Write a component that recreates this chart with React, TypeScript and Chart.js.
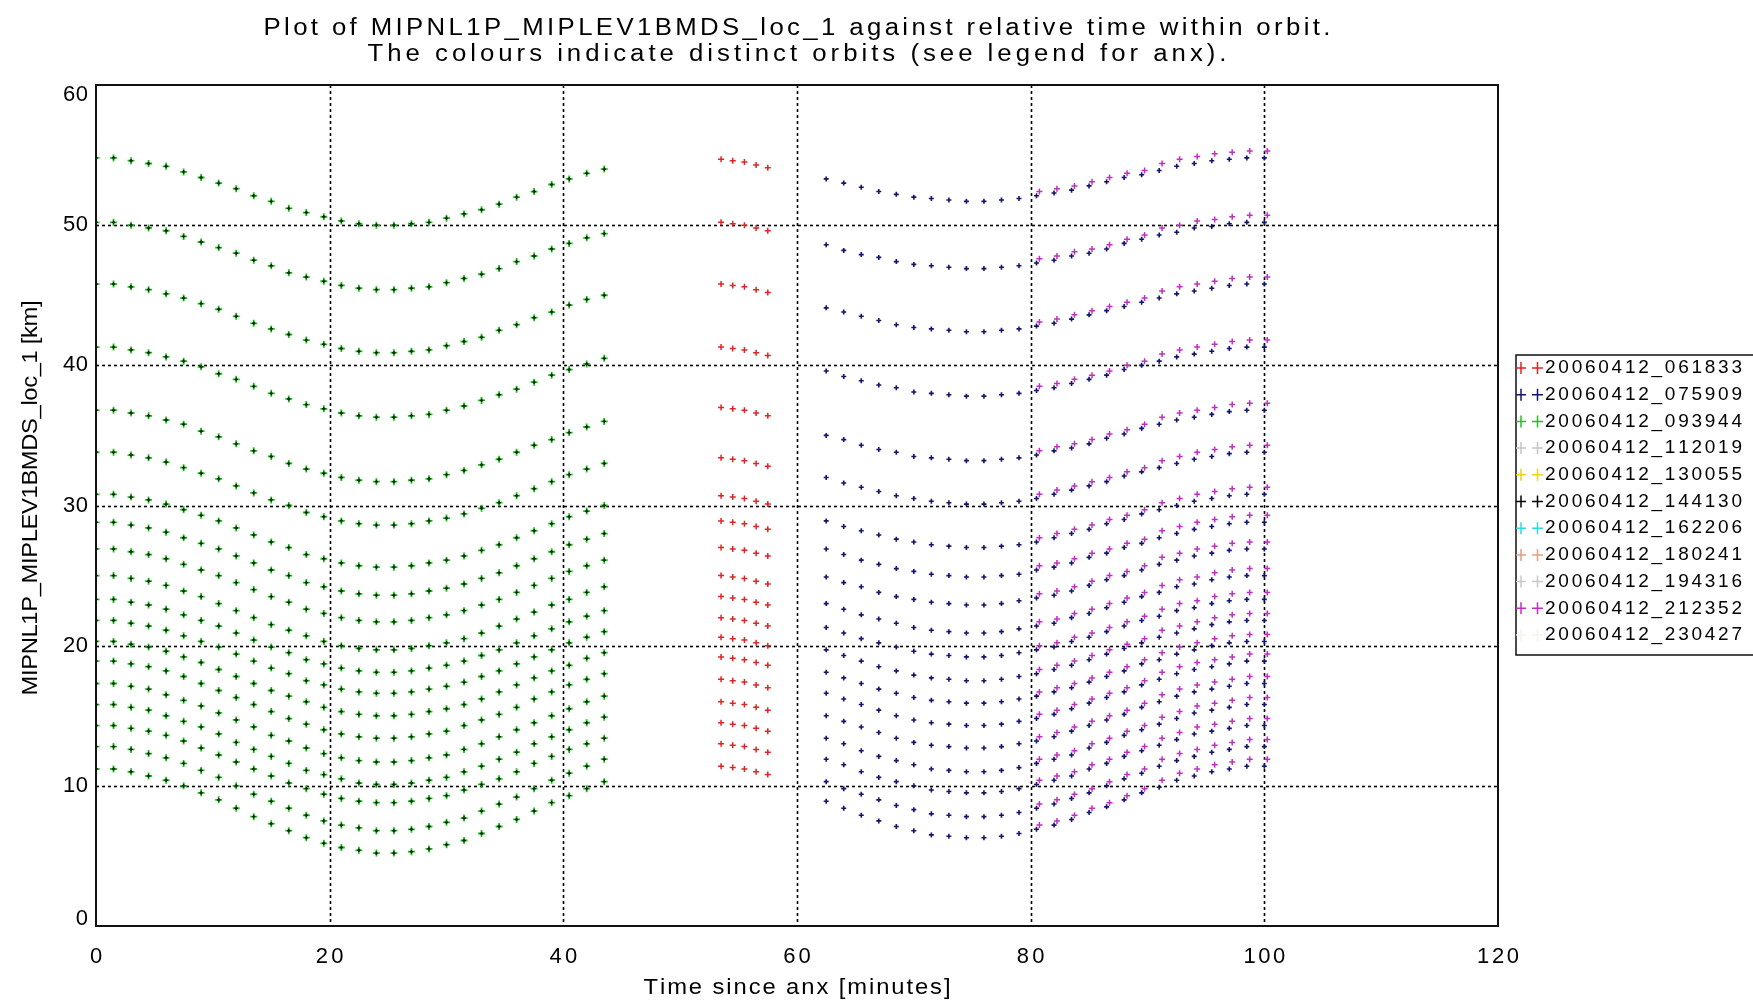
import React, { useEffect, useRef } from 'react';
import { Chart, registerables } from 'chart.js';

Chart.register(...registerables);

// ---------- texts ----------
const TITLE_1 = 'Plot of MIPNL1P_MIPLEV1BMDS_loc_1 against relative time within orbit.';
const TITLE_2 = 'The colours indicate distinct orbits (see legend for anx).';
const X_TITLE = 'Time since anx [minutes]';
const Y_TITLE = 'MIPNL1P_MIPLEV1BMDS_loc_1 [km]';

// ---------- axes ----------
const X_MIN = 0;
const X_MAX = 120;
const X_STEP = 20;
const Y_MIN = 0;
const Y_MAX = 60;
const Y_STEP = 10;

// ---------- legend ----------
const ORBITS = [
  '20060412_061833',
  '20060412_075909',
  '20060412_093944',
  '20060412_112019',
  '20060412_130055',
  '20060412_144130',
  '20060412_162206',
  '20060412_180241',
  '20060412_194316',
  '20060412_212352',
  '20060412_230427',
];
const ORBIT_COLORS = [
  '#e02424',
  '#14146e',
  '#22c022',
  '#c4c4cc',
  '#f0d020',
  '#000000',
  '#30d8e0',
  '#e0a080',
  '#c8c8c8',
  '#c030c0',
  '#f4f4ec',
];

// ---------- times (minutes since anx) ----------
const LEFT_TIMES = [0, 1.5, 3, 4.5, 6, 7.5, 9, 10.5, 12, 13.5, 15, 16.5, 18, 19.5, 21, 22.5, 24, 25.5, 27, 28.5, 30, 31.5, 33, 34.5, 36, 37.5, 39, 40.5, 42, 43.5];
const RED_TIMES = [53.5, 54.5, 55.5, 56.5, 57.5];
const RIGHT_TIMES = [62.5, 64, 65.5, 67, 68.5, 70, 71.5, 73, 74.5, 76, 77.5, 79, 80.5, 82, 83.5, 85, 86.5, 88, 89.5, 91, 92.5, 94, 95.5, 97, 98.5, 100];
const PURPLE_TIMES = [80.75, 82.25, 83.75, 85.25, 86.75, 88.25, 89.75, 91.25, 92.75, 94.25, 95.75, 97.25, 98.75, 100.25];

// ---------- values (km), one row per tangent level ----------
const GREEN_093944 = [
  [54.8, 54.8, 54.6, 54.4, 54.2, 53.8, 53.4, 53.0, 52.6, 52.1, 51.7, 51.2, 50.9, 50.6, 50.3, 50.1, 50.0, 50.0, 50.1, 50.2, 50.5, 50.8, 51.1, 51.5, 52.0, 52.4, 52.9, 53.3, 53.7, 54.0],
  [50.2, 50.2, 50.0, 49.8, 49.6, 49.2, 48.8, 48.4, 48.0, 47.5, 47.1, 46.6, 46.3, 46.0, 45.7, 45.5, 45.4, 45.4, 45.5, 45.6, 45.9, 46.2, 46.5, 46.9, 47.4, 47.8, 48.3, 48.7, 49.1, 49.4],
  [45.8, 45.8, 45.6, 45.4, 45.1, 44.8, 44.4, 44.0, 43.5, 43.0, 42.6, 42.2, 41.8, 41.5, 41.2, 41.0, 40.9, 40.9, 41.0, 41.1, 41.4, 41.7, 42.0, 42.5, 42.9, 43.4, 43.8, 44.3, 44.7, 45.0],
  [41.3, 41.3, 41.1, 40.9, 40.6, 40.3, 39.9, 39.4, 39.0, 38.5, 38.0, 37.6, 37.2, 36.9, 36.6, 36.4, 36.3, 36.3, 36.4, 36.5, 36.8, 37.1, 37.5, 37.9, 38.3, 38.8, 39.3, 39.7, 40.1, 40.5],
  [36.8, 36.8, 36.6, 36.4, 36.1, 35.8, 35.3, 34.9, 34.4, 33.9, 33.5, 33.0, 32.6, 32.3, 32.0, 31.8, 31.7, 31.7, 31.8, 31.9, 32.2, 32.5, 32.9, 33.3, 33.8, 34.3, 34.7, 35.2, 35.6, 36.0],
  [33.8, 33.8, 33.6, 33.4, 33.1, 32.7, 32.3, 31.9, 31.4, 30.9, 30.4, 30.0, 29.5, 29.2, 28.9, 28.7, 28.6, 28.6, 28.7, 28.9, 29.1, 29.4, 29.8, 30.2, 30.7, 31.2, 31.7, 32.2, 32.6, 33.0],
  [30.8, 30.8, 30.6, 30.4, 30.1, 29.7, 29.3, 28.9, 28.4, 27.9, 27.4, 27.0, 26.5, 26.2, 25.9, 25.7, 25.6, 25.6, 25.7, 25.9, 26.1, 26.4, 26.8, 27.2, 27.7, 28.2, 28.7, 29.2, 29.6, 30.0],
  [28.8, 28.8, 28.6, 28.4, 28.1, 27.7, 27.3, 26.9, 26.4, 25.9, 25.4, 25.0, 24.5, 24.2, 23.9, 23.7, 23.6, 23.6, 23.7, 23.9, 24.1, 24.4, 24.8, 25.2, 25.7, 26.2, 26.7, 27.2, 27.6, 28.0],
  [26.9, 26.9, 26.7, 26.5, 26.2, 25.8, 25.4, 25.0, 24.5, 24.0, 23.5, 23.1, 22.6, 22.3, 22.0, 21.8, 21.7, 21.7, 21.8, 22.0, 22.2, 22.5, 22.9, 23.3, 23.8, 24.3, 24.8, 25.3, 25.7, 26.1],
  [25.0, 25.0, 24.8, 24.6, 24.3, 23.9, 23.5, 23.0, 22.5, 22.0, 21.5, 21.1, 20.7, 20.3, 20.0, 19.8, 19.7, 19.7, 19.8, 20.0, 20.2, 20.5, 20.9, 21.4, 21.9, 22.4, 22.9, 23.3, 23.8, 24.2],
  [23.3, 23.3, 23.1, 22.9, 22.6, 22.2, 21.8, 21.4, 20.9, 20.4, 19.9, 19.5, 19.0, 18.7, 18.4, 18.2, 18.1, 18.1, 18.2, 18.4, 18.6, 18.9, 19.3, 19.7, 20.2, 20.7, 21.2, 21.7, 22.1, 22.5],
  [21.8, 21.8, 21.6, 21.4, 21.1, 20.7, 20.3, 19.9, 19.4, 18.9, 18.4, 18.0, 17.5, 17.2, 16.9, 16.7, 16.6, 16.6, 16.7, 16.9, 17.1, 17.4, 17.8, 18.2, 18.7, 19.2, 19.7, 20.2, 20.6, 21.0],
  [20.3, 20.3, 20.1, 19.9, 19.6, 19.2, 18.8, 18.3, 17.8, 17.3, 16.8, 16.4, 16.0, 15.6, 15.3, 15.1, 15.0, 15.0, 15.1, 15.3, 15.5, 15.8, 16.2, 16.7, 17.2, 17.7, 18.2, 18.6, 19.1, 19.5],
  [18.9, 18.9, 18.7, 18.5, 18.2, 17.8, 17.3, 16.8, 16.3, 15.8, 15.3, 14.8, 14.4, 14.0, 13.7, 13.5, 13.4, 13.4, 13.5, 13.7, 13.9, 14.3, 14.7, 15.1, 15.6, 16.2, 16.7, 17.2, 17.6, 18.0],
  [17.3, 17.3, 17.1, 16.9, 16.5, 16.1, 15.7, 15.2, 14.7, 14.2, 13.6, 13.2, 12.7, 12.3, 12.0, 11.8, 11.7, 11.7, 11.8, 12.0, 12.2, 12.6, 13.0, 13.5, 14.0, 14.5, 15.0, 15.5, 16.0, 16.4],
  [15.8, 15.8, 15.6, 15.4, 15.0, 14.6, 14.2, 13.7, 13.1, 12.6, 12.1, 11.6, 11.1, 10.8, 10.5, 10.2, 10.1, 10.1, 10.2, 10.4, 10.6, 11.0, 11.4, 11.9, 12.4, 13.0, 13.5, 14.0, 14.5, 14.9],
  [14.3, 14.3, 14.1, 13.9, 13.6, 13.2, 12.7, 12.2, 11.7, 11.2, 10.7, 10.2, 9.8, 9.4, 9.1, 8.9, 8.8, 8.8, 8.9, 9.1, 9.3, 9.7, 10.1, 10.5, 11.0, 11.6, 12.1, 12.6, 13.0, 13.4],
  [12.8, 12.8, 12.6, 12.3, 12.0, 11.6, 11.1, 10.6, 10.0, 9.4, 8.9, 8.4, 7.9, 7.5, 7.2, 7.0, 6.8, 6.8, 6.9, 7.1, 7.4, 7.7, 8.2, 8.7, 9.2, 9.8, 10.4, 10.9, 11.4, 11.9],
  [11.2, 11.2, 11.0, 10.7, 10.4, 10.0, 9.5, 9.0, 8.4, 7.8, 7.3, 6.8, 6.3, 5.9, 5.6, 5.4, 5.2, 5.2, 5.3, 5.5, 5.8, 6.1, 6.6, 7.1, 7.6, 8.2, 8.8, 9.3, 9.8, 10.3],
];

const RED_061833 = [
  [54.7, 54.6, 54.5, 54.3, 54.1],
  [50.2, 50.1, 50.0, 49.8, 49.6],
  [45.8, 45.7, 45.6, 45.4, 45.2],
  [41.3, 41.2, 41.1, 40.9, 40.7],
  [37.0, 36.9, 36.8, 36.6, 36.4],
  [33.4, 33.3, 33.2, 33.0, 32.8],
  [30.7, 30.6, 30.5, 30.3, 30.1],
  [28.9, 28.8, 28.7, 28.5, 28.3],
  [27.0, 26.9, 26.8, 26.6, 26.4],
  [25.0, 24.9, 24.8, 24.6, 24.4],
  [23.5, 23.4, 23.3, 23.1, 22.9],
  [22.0, 21.9, 21.8, 21.6, 21.4],
  [20.6, 20.5, 20.4, 20.2, 20.0],
  [19.2, 19.1, 19.0, 18.8, 18.6],
  [17.6, 17.5, 17.4, 17.2, 17.0],
  [16.0, 15.9, 15.8, 15.6, 15.4],
  [14.5, 14.4, 14.3, 14.1, 13.9],
  [13.0, 12.9, 12.8, 12.6, 12.4],
  [11.4, 11.3, 11.2, 11.0, 10.8],
];

const NAVY_075909 = [
  [53.3, 53.0, 52.7, 52.4, 52.2, 52.0, 51.9, 51.8, 51.7, 51.7, 51.8, 51.9, 52.1, 52.3, 52.5, 52.8, 53.1, 53.4, 53.6, 53.9, 54.2, 54.4, 54.6, 54.7, 54.8, 54.8],
  [48.6, 48.2, 47.9, 47.7, 47.4, 47.2, 47.1, 47.0, 46.9, 46.9, 47.0, 47.1, 47.3, 47.5, 47.8, 48.0, 48.3, 48.7, 49.0, 49.3, 49.5, 49.8, 49.9, 50.1, 50.2, 50.2],
  [44.1, 43.8, 43.5, 43.2, 42.9, 42.7, 42.6, 42.5, 42.4, 42.4, 42.5, 42.6, 42.8, 43.0, 43.3, 43.6, 43.9, 44.2, 44.5, 44.8, 45.1, 45.3, 45.5, 45.7, 45.8, 45.8],
  [39.6, 39.2, 38.9, 38.6, 38.4, 38.1, 38.0, 37.9, 37.8, 37.8, 37.9, 38.0, 38.2, 38.4, 38.7, 39.0, 39.3, 39.7, 40.0, 40.3, 40.6, 40.8, 41.0, 41.2, 41.3, 41.3],
  [35.0, 34.7, 34.3, 34.0, 33.8, 33.5, 33.4, 33.3, 33.2, 33.2, 33.3, 33.4, 33.6, 33.9, 34.1, 34.4, 34.8, 35.1, 35.5, 35.8, 36.1, 36.3, 36.5, 36.7, 36.8, 36.8],
  [32.0, 31.6, 31.3, 31.0, 30.7, 30.5, 30.3, 30.2, 30.1, 30.1, 30.2, 30.3, 30.5, 30.8, 31.1, 31.4, 31.7, 32.1, 32.4, 32.7, 33.0, 33.3, 33.5, 33.7, 33.8, 33.8],
  [28.9, 28.5, 28.2, 27.9, 27.6, 27.4, 27.2, 27.1, 27.0, 27.0, 27.1, 27.2, 27.4, 27.7, 28.0, 28.3, 28.7, 29.0, 29.4, 29.7, 30.0, 30.3, 30.5, 30.7, 30.8, 30.8],
  [26.9, 26.5, 26.1, 25.8, 25.5, 25.3, 25.1, 25.0, 24.9, 24.9, 25.0, 25.1, 25.4, 25.6, 25.9, 26.3, 26.6, 27.0, 27.3, 27.7, 28.0, 28.3, 28.5, 28.7, 28.8, 28.8],
  [24.9, 24.5, 24.2, 23.8, 23.5, 23.3, 23.1, 23.0, 22.9, 22.9, 23.0, 23.2, 23.4, 23.6, 23.9, 24.3, 24.7, 25.0, 25.4, 25.8, 26.1, 26.4, 26.6, 26.8, 26.9, 26.9],
  [23.0, 22.6, 22.2, 21.9, 21.6, 21.3, 21.1, 21.0, 20.9, 20.9, 21.0, 21.2, 21.4, 21.6, 22.0, 22.3, 22.7, 23.1, 23.5, 23.8, 24.2, 24.4, 24.7, 24.9, 25.0, 25.0],
  [21.3, 20.9, 20.5, 20.2, 19.9, 19.6, 19.4, 19.3, 19.2, 19.2, 19.3, 19.5, 19.7, 19.9, 20.3, 20.6, 21.0, 21.4, 21.8, 22.1, 22.5, 22.7, 23.0, 23.2, 23.3, 23.3],
  [19.7, 19.3, 18.9, 18.5, 18.2, 17.9, 17.7, 17.6, 17.5, 17.5, 17.6, 17.8, 18.0, 18.3, 18.6, 19.0, 19.4, 19.8, 20.2, 20.6, 20.9, 21.2, 21.5, 21.7, 21.8, 21.8],
  [18.1, 17.7, 17.3, 16.9, 16.6, 16.3, 16.1, 16.0, 15.9, 15.9, 16.0, 16.2, 16.4, 16.7, 17.0, 17.4, 17.8, 18.2, 18.7, 19.0, 19.4, 19.7, 20.0, 20.2, 20.3, 20.3],
  [16.6, 16.2, 15.8, 15.4, 15.0, 14.7, 14.5, 14.4, 14.3, 14.3, 14.4, 14.6, 14.8, 15.1, 15.5, 15.9, 16.3, 16.7, 17.2, 17.6, 18.0, 18.3, 18.5, 18.7, 18.9, 18.9],
  [15.0, 14.6, 14.2, 13.8, 13.4, 13.1, 12.9, 12.8, 12.7, 12.7, 12.8, 13.0, 13.2, 13.5, 13.9, 14.3, 14.7, 15.1, 15.6, 16.0, 16.4, 16.7, 16.9, 17.1, 17.3, 17.3],
  [13.4, 13.0, 12.5, 12.1, 11.8, 11.5, 11.2, 11.1, 11.0, 11.0, 11.1, 11.3, 11.6, 11.9, 12.2, 12.7, 13.1, 13.6, 14.0, 14.4, 14.8, 15.2, 15.4, 15.6, 15.8, 15.8],
  [11.9, 11.5, 11.0, 10.6, 10.3, 10.0, 9.7, 9.6, 9.5, 9.5, 9.6, 9.8, 10.1, 10.4, 10.7, 11.2, 11.6, 12.1, 12.5, 12.9, 13.3, 13.7, 13.9, 14.1, 14.3, 14.3],
  [10.3, 9.8, 9.4, 9.0, 8.6, 8.3, 8.0, 7.9, 7.8, 7.8, 7.9, 8.1, 8.4, 8.7, 9.1, 9.5, 10.0, 10.5, 10.9, 11.4, 11.8, 12.1, 12.4, 12.6, 12.8, 12.8],
  [8.9, 8.4, 7.9, 7.5, 7.1, 6.8, 6.5, 6.4, 6.3, 6.3, 6.4, 6.6, 6.9, 7.2, 7.6, 8.1, 8.5, 9.0, 9.5, 9.9, 10.4, 10.7, 11.0, 11.2, 11.4, 11.4],
];

const PURPLE_212352 = [
  [52.4, 52.6, 52.8, 53.1, 53.4, 53.7, 53.9, 54.4, 54.7, 54.9, 55.1, 55.2, 55.3, 55.3],
  [47.6, 47.8, 48.1, 48.3, 48.6, 49.0, 49.3, 49.8, 50.0, 50.3, 50.4, 50.6, 50.7, 50.7],
  [43.1, 43.3, 43.6, 43.9, 44.2, 44.5, 44.8, 45.3, 45.6, 45.8, 46.0, 46.2, 46.3, 46.3],
  [38.5, 38.7, 39.0, 39.3, 39.6, 40.0, 40.3, 40.8, 41.1, 41.3, 41.5, 41.7, 41.8, 41.8],
  [33.9, 34.2, 34.4, 34.7, 35.1, 35.4, 35.8, 36.3, 36.6, 36.8, 37.0, 37.2, 37.3, 37.3],
  [30.8, 31.1, 31.4, 31.7, 32.0, 32.4, 32.7, 33.2, 33.5, 33.8, 34.0, 34.2, 34.3, 34.3],
  [27.7, 28.0, 28.3, 28.6, 29.0, 29.3, 29.7, 30.2, 30.5, 30.8, 31.0, 31.2, 31.3, 31.3],
  [25.7, 25.9, 26.2, 26.6, 26.9, 27.3, 27.6, 28.2, 28.5, 28.8, 29.0, 29.2, 29.3, 29.3],
  [23.7, 23.9, 24.2, 24.6, 25.0, 25.3, 25.7, 26.3, 26.6, 26.9, 27.1, 27.3, 27.4, 27.4],
  [21.7, 21.9, 22.3, 22.6, 23.0, 23.4, 23.8, 24.3, 24.7, 24.9, 25.2, 25.4, 25.5, 25.5],
  [20.0, 20.2, 20.6, 20.9, 21.3, 21.7, 22.1, 22.6, 23.0, 23.2, 23.5, 23.7, 23.8, 23.8],
  [18.3, 18.6, 18.9, 19.3, 19.7, 20.1, 20.5, 21.1, 21.4, 21.7, 22.0, 22.2, 22.3, 22.3],
  [16.7, 17.0, 17.3, 17.7, 18.1, 18.5, 19.0, 19.5, 19.9, 20.2, 20.5, 20.7, 20.8, 20.8],
  [15.1, 15.4, 15.8, 16.2, 16.6, 17.0, 17.5, 18.1, 18.5, 18.8, 19.0, 19.2, 19.4, 19.4],
  [13.5, 13.8, 14.2, 14.6, 15.0, 15.4, 15.9, 16.5, 16.9, 17.2, 17.4, 17.6, 17.8, 17.8],
  [11.9, 12.2, 12.5, 13.0, 13.4, 13.9, 14.3, 14.9, 15.3, 15.7, 15.9, 16.1, 16.3, 16.3],
  [10.4, 10.7, 11.0, 11.5, 11.9, 12.4, 12.8, 13.4, 13.8, 14.2, 14.4, 14.6, 14.8, 14.8],
  [8.7, 9.0, 9.4, 9.8, 10.3, 10.8, 11.2, 11.9, 12.3, 12.6, 12.9, 13.1, 13.3, 13.3],
  [7.2, 7.5, 7.9, 8.4, 8.8, 9.3, 9.8, 10.4, 10.9, 11.2, 11.5, 11.7, 11.9, 11.9],
];

// ---------- helpers ----------
type Pt = { x: number; y: number };
function toPoints(times: number[], rows: number[][]): Pt[] {
  const pts: Pt[] = [];
  rows.forEach((row) => {
    const n = Math.min(times.length, row.length);
    for (let i = 0; i < n; i++) pts.push({ x: times[i], y: row[i] });
  });
  return pts;
}

const FONT_FAMILY = "'Liberation Sans', Arial, sans-serif";

// draws (optionally horizontally scaled) glyphs spread evenly over a target width
function spacedText(
  ctx: CanvasRenderingContext2D,
  text: string,
  x: number,
  y: number,
  width: number,
  align: 'left' | 'center' | 'right',
  sx: number
) {
  const chars = Array.from(text);
  const ws = chars.map((c) => ctx.measureText(c).width * sx);
  const w0 = ws.reduce((a, b) => a + b, 0);
  const ls = chars.length > 1 ? (width - w0) / (chars.length - 1) : 0;
  const total = chars.length > 1 ? width : w0;
  let cx = align === 'left' ? x : align === 'center' ? x - total / 2 : x - total;
  ctx.textAlign = 'left';
  chars.forEach((c, i) => {
    ctx.save();
    ctx.translate(cx, y);
    ctx.scale(sx, 1);
    ctx.fillText(c, 0, 0);
    ctx.restore();
    cx += ws[i] + ls;
  });
}

const framePlugin = {
  id: 'idlFrame',
  beforeDatasetsDraw(chart: any) {
    const { ctx, chartArea, scales } = chart;
    const xs = scales.x;
    const ys = scales.y;
    ctx.save();
    ctx.strokeStyle = '#000';
    ctx.lineWidth = 1.6;
    ctx.setLineDash([3, 3]);
    xs.ticks.forEach((t: any) => {
      if (t.value <= X_MIN || t.value >= X_MAX) return;
      const px = Math.round(xs.getPixelForValue(t.value)) + 0.5;
      ctx.beginPath();
      ctx.moveTo(px, chartArea.top);
      ctx.lineTo(px, chartArea.bottom);
      ctx.stroke();
    });
    ys.ticks.forEach((t: any) => {
      if (t.value <= Y_MIN || t.value >= Y_MAX) return;
      const py = Math.round(ys.getPixelForValue(t.value)) + 0.5;
      ctx.beginPath();
      ctx.moveTo(chartArea.left, py);
      ctx.lineTo(chartArea.right, py);
      ctx.stroke();
    });
    ctx.restore();
  },
  afterDraw(chart: any) {
    const { ctx, chartArea, scales } = chart;
    const xs = scales.x;
    const ys = scales.y;
    ctx.save();
    // frame
    ctx.setLineDash([]);
    ctx.strokeStyle = '#111';
    ctx.lineWidth = 2;
    ctx.strokeRect(chartArea.left, chartArea.top, chartArea.right - chartArea.left, chartArea.bottom - chartArea.top);

    ctx.fillStyle = '#000';
    // y tick labels
    ctx.font = `22px ${FONT_FAMILY}`;
    ctx.textBaseline = 'middle';
    ys.ticks.forEach((t: any) => {
      let py = ys.getPixelForValue(t.value);
      if (t.value >= Y_MAX) py += 10;
      if (t.value <= Y_MIN) py -= 7;
      const s = String(t.value);
      spacedText(ctx, s, chartArea.left - 8, py, s.length * 13 - 1, 'right', 1);
    });
    // x tick labels
    xs.ticks.forEach((t: any) => {
      const px = xs.getPixelForValue(t.value);
      const s = String(t.value);
      spacedText(ctx, s, px, chartArea.bottom + 31, s.length * 14.3 - 1, 'center', 1);
    });

    // titles
    const cx = (chartArea.left + chartArea.right) / 2;
    ctx.font = `23px ${FONT_FAMILY}`;
    ctx.textBaseline = 'alphabetic';
    spacedText(ctx, TITLE_1, cx, 35, 1067, 'center', 1.12);
    spacedText(ctx, TITLE_2, cx, 61, 859, 'center', 1.12);

    // axis titles
    ctx.font = `22px ${FONT_FAMILY}`;
    ctx.textBaseline = 'middle';
    spacedText(ctx, X_TITLE, cx, 988, 307, 'center', 1.08);
    ctx.save();
    ctx.translate(31, 498);
    ctx.rotate(-Math.PI / 2);
    spacedText(ctx, Y_TITLE, 0, 0, 395, 'center', 1.08);
    ctx.restore();

    // legend box
    const lx = 1516;
    const ltop = 355;
    const lbot = 655;
    ctx.strokeStyle = '#111';
    ctx.lineWidth = 1.5;
    ctx.beginPath();
    ctx.moveTo(1760, ltop);
    ctx.lineTo(lx, ltop);
    ctx.lineTo(lx, lbot);
    ctx.lineTo(1760, lbot);
    ctx.stroke();
    ctx.font = `19px ${FONT_FAMILY}`;
    ctx.textBaseline = 'middle';
    ORBITS.forEach((name, i) => {
      const y = 368 + 26.7 * i;
      const col = ORBIT_COLORS[i];
      ctx.strokeStyle = col;
      ctx.lineWidth = 1.5;
      ctx.beginPath();
      ctx.moveTo(1516, y);
      ctx.lineTo(1526, y);
      ctx.moveTo(1521, y - 6);
      ctx.lineTo(1521, y + 6);
      ctx.moveTo(1532, y);
      ctx.lineTo(1543, y);
      ctx.moveTo(1537.5, y - 6);
      ctx.lineTo(1537.5, y + 6);
      ctx.stroke();
      ctx.fillStyle = '#000';
      spacedText(ctx, name, 1545, y, 197, 'left', 1);
    });
    ctx.restore();
  },
};

type Style = { radius: number; width: number; order: number };
const STYLES: Style[] = [
  { radius: 3, width: 1.5, order: 3 },
  { radius: 2.5, width: 1.6, order: 1 },
  { radius: 3.5, width: 1.8, order: 6 },
  { radius: 3, width: 1.5, order: 7 },
  { radius: 3, width: 1.5, order: 7 },
  { radius: 1.8, width: 1.4, order: 0 },
  { radius: 3, width: 1.5, order: 7 },
  { radius: 3, width: 1.5, order: 7 },
  { radius: 3, width: 1.5, order: 7 },
  { radius: 3, width: 1.5, order: 2 },
  { radius: 3, width: 1.5, order: 7 },
];

export default function App() {
  const ref = useRef<HTMLCanvasElement | null>(null);

  useEffect(() => {
    if (!ref.current) return;
    const seriesData: Pt[][] = ORBITS.map(() => []);
    seriesData[0] = toPoints(RED_TIMES, RED_061833);
    seriesData[1] = toPoints(RIGHT_TIMES, NAVY_075909);
    seriesData[2] = toPoints(LEFT_TIMES, GREEN_093944);
    seriesData[5] = toPoints(LEFT_TIMES, GREEN_093944);
    seriesData[9] = toPoints(PURPLE_TIMES, PURPLE_212352);

    const datasets = ORBITS.map((name, i) => ({
      label: name,
      data: seriesData[i],
      showLine: false,
      pointStyle: 'cross' as const,
      pointRadius: STYLES[i].radius,
      pointBorderWidth: STYLES[i].width,
      pointBorderColor: i === 5 ? '#0a2a0a' : ORBIT_COLORS[i],
      pointBackgroundColor: ORBIT_COLORS[i],
      order: STYLES[i].order,
    }));

    const chart = new Chart(ref.current, {
      type: 'scatter',
      data: { datasets },
      options: {
        animation: false,
        responsive: false,
        events: [],
        layout: { padding: { left: 96, top: 85, right: 255, bottom: 79 } },
        plugins: {
          legend: { display: false },
          title: { display: false },
          tooltip: { enabled: false },
        },
        scales: {
          x: { type: 'linear', display: false, min: X_MIN, max: X_MAX, ticks: { stepSize: X_STEP } },
          y: { type: 'linear', display: false, min: Y_MIN, max: Y_MAX, ticks: { stepSize: Y_STEP } },
        },
      },
      plugins: [framePlugin],
    });
    return () => chart.destroy();
  }, []);

  return (
    <div style={{ position: 'fixed', left: 0, top: 0, width: 1753, height: 1005, background: '#fff' }}>
      <canvas ref={ref} width={1753} height={1005} style={{ display: 'block', width: 1753, height: 1005 }} />
    </div>
  );
}
